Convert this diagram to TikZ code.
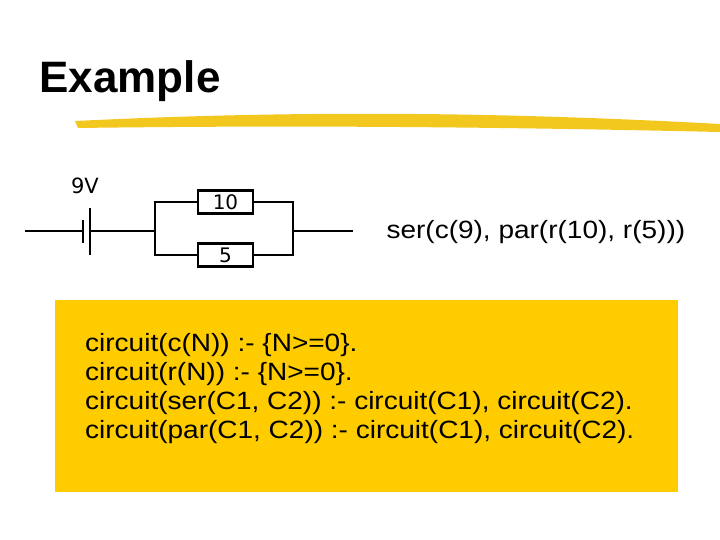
\documentclass[tikz,border=0pt]{standalone}
\usepackage{fontspec}
\setmainfont{Liberation Sans}
\newfontfamily\tahoma{DejaVu Sans}
\newfontfamily\wide[FakeStretch=1.12]{Liberation Sans}
\definecolor{gold}{HTML}{FFCC00}
\definecolor{brush}{HTML}{F2C81E}
\begin{document}
\begin{tikzpicture}[x=1pt,y=-1pt,wire/.style={line width=2.6pt},
 res/.style={draw,line width=2.6pt,minimum width=55pt,minimum height=23pt,inner sep=0pt,font=\tahoma\fontsize{20}{20}\selectfont},
 txt/.style={font=\wide\fontsize{25}{29}\selectfont}]
\useasboundingbox (0,0) rectangle (720,540);
\node[anchor=west,font=\fontsize{44}{44}\selectfont\bfseries] (title) at (36,81) {Example};
\fill[brush] (75,121) .. controls (300,110) and (500,112) .. (720,124) -- (720,132) .. controls (500,127) and (300,125) .. (78,128) -- cycle;
\node[font=\tahoma\fontsize{21}{21}\selectfont] (v) at (85,186) {9V};
\coordinate (a) at (25,231);
\coordinate (b1) at (83,231);
\coordinate (b2) at (90,231);
\coordinate (j1) at (155,231);
\coordinate (j2) at (293,231);
\coordinate (e) at (353,231);
\node[res] (r10) at (225.5,202) {10};
\node[res] (r5) at (225.5,255) {5};
\draw[wire] (a) -- (b1);
\draw[wire] (83,220) -- (83,243);
\draw[wire] (90,208) -- (90,255);
\draw[wire] (b2) -- (j1);
\draw[wire] (j1) |- (r10.west);
\draw[wire] (j1) |- (r5.west);
\draw[wire] (r10.east) -| (j2);
\draw[wire] (r5.east) -| (j2);
\draw[wire] (j2) -- (e);
\node[anchor=west,txt] (ser) at (383,232) {ser(c(9), par(r(10), r(5)))};
\fill[gold] (55,300) rectangle (678,492);
\node[anchor=north west,align=left,txt,inner sep=0pt] (code) at (85,333) {circuit(c(N)) :- \{N>=0\}.\\circuit(r(N)) :- \{N>=0\}.\\circuit(ser(C1, C2)) :- circuit(C1), circuit(C2).\\circuit(par(C1, C2)) :- circuit(C1), circuit(C2).};
\end{tikzpicture}
\end{document}
